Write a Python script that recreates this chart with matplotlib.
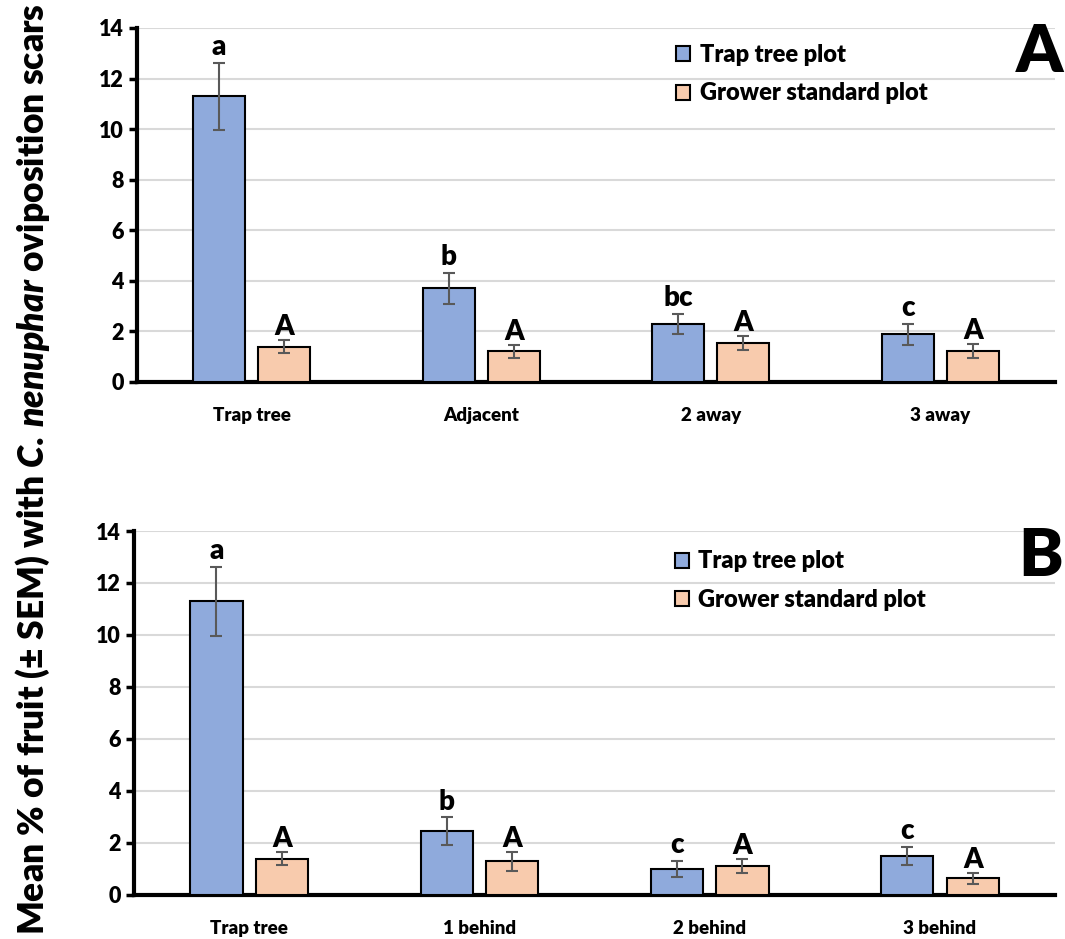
import numpy as np
import matplotlib
matplotlib.use('Agg')
import matplotlib.pyplot as plt

plt.rcParams['font.family'] = ['Lato', 'DejaVu Sans']
plt.rcParams['font.weight'] = 'heavy'
plt.rcParams['mathtext.fontset'] = 'custom'
plt.rcParams['mathtext.rm'] = 'Lato:heavy'
plt.rcParams['mathtext.it'] = 'Lato:italic:heavy'

# data
cats_a = ['Trap tree', 'Adjacent', '2 away', '3 away']
trap_a = [11.3, 3.7, 2.3, 1.88]
trap_a_err = [1.33, 0.6, 0.4, 0.41]
grow_a = [1.4, 1.22, 1.54, 1.22]
grow_a_err = [0.25, 0.26, 0.27, 0.27]
lett_trap_a = ['a', 'b', 'bc', 'c']
lett_grow_a = ['A', 'A', 'A', 'A']

cats_b = ['Trap tree', '1 behind', '2 behind', '3 behind']
trap_b = [11.3, 2.46, 1.0, 1.5]
trap_b_err = [1.33, 0.52, 0.32, 0.35]
grow_b = [1.4, 1.3, 1.12, 0.65]
grow_b_err = [0.25, 0.36, 0.26, 0.21]
lett_trap_b = ['a', 'b', 'c', 'c']
lett_grow_b = ['A', 'A', 'A', 'A']

blue = '#8FAADC'
orange = '#F8CBAD'
W = 'heavy'

fig = plt.figure(figsize=(10.65, 9.39), dpi=100)
axA = fig.add_axes([0.1286, 0.5932, 0.862, 0.377])
axB = fig.add_axes([0.1258, 0.0469, 0.865, 0.3876])


def draw(ax, cats, t, te, g, ge, lt, lg, panel, ly):
    x = np.arange(len(cats))
    w = 0.227
    off = 0.142
    ax.bar(x - off, t, w, color=blue, edgecolor='black', linewidth=1.5,
           label='Trap tree plot', zorder=3)
    ax.bar(x + off, g, w, color=orange, edgecolor='black', linewidth=1.5,
           label='Grower standard plot', zorder=3)
    ax.errorbar(x - off, t, yerr=te, fmt='none', ecolor='#595959',
                elinewidth=1.5, capsize=4, capthick=1.5, zorder=4)
    ax.errorbar(x + off, g, yerr=ge, fmt='none', ecolor='#595959',
                elinewidth=1.5, capsize=4, capthick=1.5, zorder=4)
    for i in range(len(cats)):
        ax.annotate(lt[i], (x[i] - off, t[i] + te[i]), xytext=(0, 2),
                    textcoords='offset points', ha='center', va='bottom',
                    fontsize=20, fontweight=W)
        ax.annotate(lg[i], (x[i] + off, g[i] + ge[i]), xytext=(0, 0),
                    textcoords='offset points', ha='center', va='bottom',
                    fontsize=20, fontweight=W)
    ax.set_xlim(-0.5, len(cats) - 0.5)
    ax.set_ylim(0, 14)
    ax.set_yticks(range(0, 15, 2))
    ax.set_xticks(x)
    ax.set_xticklabels(cats, fontsize=13.5, fontweight=W)
    ax.tick_params(axis='x', length=0, pad=18)
    ax.tick_params(axis='y', labelsize=15.5, width=2.5, length=6, direction='out')
    for lab in ax.get_yticklabels():
        lab.set_fontweight(W)
    ax.yaxis.grid(True, color='#D9D9D9', linewidth=1.5, zorder=0)
    ax.set_axisbelow(True)
    for s in ['top', 'right']:
        ax.spines[s].set_visible(False)
    for s in ['left', 'bottom']:
        ax.spines[s].set_linewidth(3)
    ax.legend(loc='upper left', bbox_to_anchor=(0.564, ly), frameon=False,
              handlelength=0.6, handleheight=0.6,
              handletextpad=0.4, labelspacing=0.7,
              prop={'weight': W, 'size': 17})
    ax.text(1.009, 0.93, panel, transform=ax.transAxes, ha='right', va='center',
            fontsize=48, fontweight=W)


draw(axA, cats_a, trap_a, trap_a_err, grow_a, grow_a_err, lett_trap_a, lett_grow_a, 'A', 1.015)
draw(axB, cats_b, trap_b, trap_b_err, grow_b, grow_b_err, lett_trap_b, lett_grow_b, 'B', 1.005)

fig.text(0.031, 0.5, r'Mean % of fruit ($\pm$ SEM) with $\mathit{C.\,nenuphar}$ oviposition scars',
         rotation=90, ha='center', va='center', fontsize=25.5, fontweight=W)

plt.savefig('out.png', dpi=100)
